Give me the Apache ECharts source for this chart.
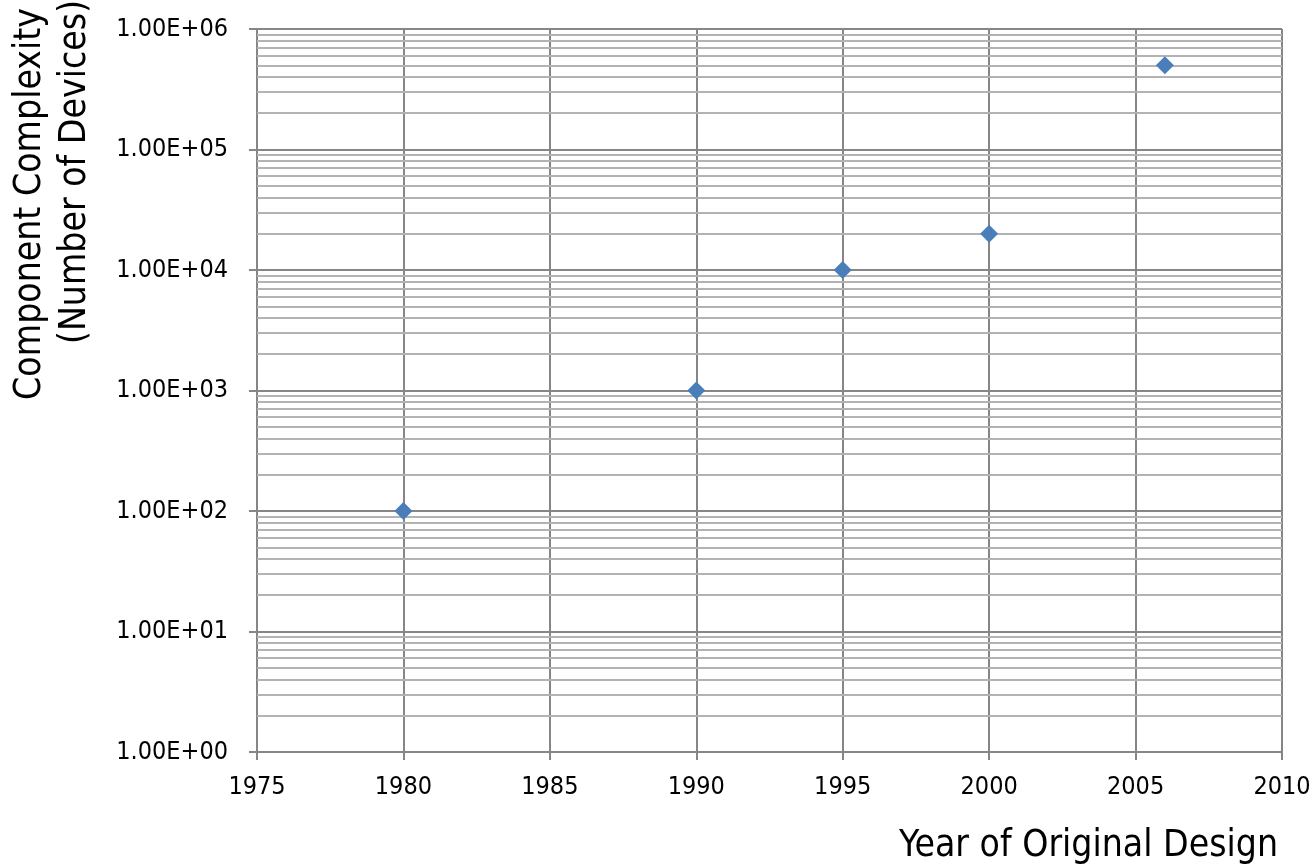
<!DOCTYPE html>
<html><head><meta charset="utf-8">
<script src="https://cdn.jsdelivr.net/npm/echarts@6/dist/echarts.min.js"></script>
<style>html,body{margin:0;padding:0;background:#fff}#c{width:1316px;height:866px}</style>
</head><body><div id="c"></div>
<script>
const years = [1980, 1990, 1995, 2000, 2006];
const devices = [100, 1000, 10000, 20000, 500000];
const yTitle1 = 'Component Complexity';
const yTitle2 = '(Number of Devices)';
const xTitle = 'Year of Original Design';
const minorMultipliers = [2, 3, 4, 5, 6, 7, 8, 9];
const decades = [1, 10, 100, 1000, 10000, 100000];

const minorLines = [];
decades.forEach(d => minorMultipliers.forEach(m => minorLines.push({yAxis: d * m})));

const FONT = 'DejaVu Sans Condensed';
const chart = echarts.init(document.getElementById('c'));
chart.setOption({
  animation: false,
  grid: {left: 257, right: 34, top: 29, bottom: 114},
  xAxis: {
    type: 'value', min: 1975, max: 2010, interval: 5,
    axisLine: {show: true, lineStyle: {color: '#868686', width: 2}},
    axisTick: {show: true, length: 8, lineStyle: {color: '#868686', width: 2}},
    axisLabel: {color: '#000', fontSize: 25, fontFamily: FONT, margin: 23, formatter: v => String(v)},
    splitLine: {show: true, lineStyle: {color: '#868686', width: 2}}
  },
  yAxis: {
    type: 'log', logBase: 10, min: 1, max: 1000000,
    axisLine: {show: true, lineStyle: {color: '#868686', width: 2}},
    axisTick: {show: true, length: 8, lineStyle: {color: '#868686', width: 2}},
    axisLabel: {color: '#000', fontSize: 25, fontFamily: FONT, margin: 29,
      formatter: v => Number(v).toExponential(2).toUpperCase().replace(/E\+(\d)$/, 'E+0$1')},
    splitLine: {show: true, lineStyle: {color: '#868686', width: 2}}
  },
  graphic: [
    {type: 'text', rotation: Math.PI / 2, x: 30, y: 204,
      style: {text: yTitle1, font: '37px "' + FONT + '"', fill: '#000', align: 'center', verticalAlign: 'middle'}},
    {type: 'text', rotation: Math.PI / 2, x: 75, y: 172,
      style: {text: yTitle2, font: '37px "' + FONT + '"', fill: '#000', align: 'center', verticalAlign: 'middle'}},
    {type: 'text', x: 1278, y: 846,
      style: {text: xTitle, font: '37px "' + FONT + '"', fill: '#000', align: 'right', verticalAlign: 'middle'}}
  ],
  series: [
    {type: 'scatter', data: years.map((y, i) => [y, devices[i]]),
      symbol: 'diamond', symbolSize: 18, itemStyle: {color: '#4a7ebb', opacity: 1}, z: 5,
      markLine: {silent: true, symbol: 'none', label: {show: false},
        lineStyle: {color: '#b3b3b3', width: 2, type: 'solid', opacity: 1}, data: minorLines, z: 1}}
  ]
});
</script></body></html>
